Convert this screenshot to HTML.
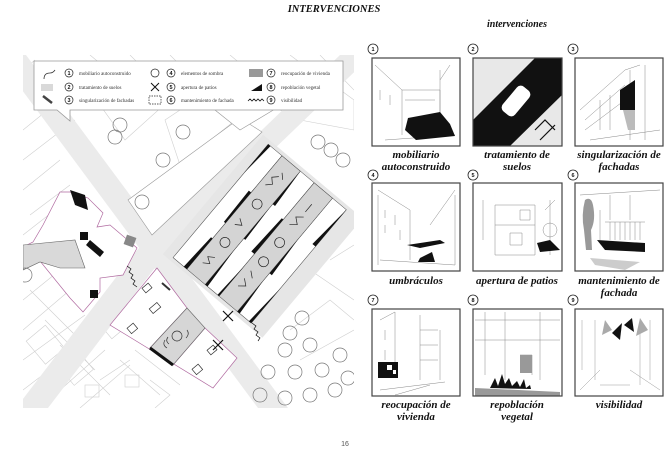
<!DOCTYPE html>
<html><head><meta charset="utf-8"><style>
html,body{margin:0;padding:0;background:#fff;}
svg{display:block;}
.lb{font-family:"Liberation Serif",serif;font-style:italic;font-weight:bold;font-size:11px;fill:#111;text-anchor:middle;}
.lg{font-family:"Liberation Serif",serif;font-size:5px;fill:#333;}
.n{font-family:"Liberation Sans",sans-serif;font-size:5.5px;font-weight:bold;fill:#111;text-anchor:middle;}
</style></head><body>
<svg width="670" height="464" viewBox="0 0 670 464" xmlns="http://www.w3.org/2000/svg">
<text x="334" y="12" class="lb" style="font-size:10.5px">INTERVENCIONES</text>
<text x="517" y="27" class="lb" style="font-size:10px">intervenciones</text>

<defs><clipPath id="mc"><rect x="23" y="55" width="331" height="353"/></clipPath></defs>
<g clip-path="url(#mc)">
<rect x="23" y="55" width="331" height="353" fill="#fff"/>
<g stroke="#cfcfcf" stroke-width="0.6" fill="none">
<path d="M23,130 L60,100 M23,160 L75,120 M23,190 L60,160 M30,215 L70,185 M23,235 L55,210 M35,60 L23,70 M90,55 L120,80 M130,55 L150,75 M170,55 L200,85 M230,55 L260,80 M290,55 L310,70 M320,55 L354,90"/>
<path d="M100,105 L150,65 L175,95 L125,140 Z M165,120 L240,70 L260,100 L180,165Z M270,105 L320,75 L354,100 L354,130 L300,120 Z"/>
<path d="M23,300 L60,270 M23,330 L70,290 M23,360 L85,315 M23,390 L95,335 M40,408 L105,350 M80,408 L130,365 M60,345 L110,395 M45,320 L95,370 M30,290 L80,340 M120,360 L160,395 M135,350 L180,385 M150,380 L170,395 L155,408 M100,380 L130,360"/>
<path d="M270,300 L310,270 L354,300 M290,330 L330,300 L354,320 M300,360 L354,330 M330,260 L354,245 M280,280 L320,250"/>
<rect x="33" y="330" width="25" height="30" transform="rotate(-40 45 345)"/>
<rect x="65" y="360" width="25" height="20" transform="rotate(-40 77 370)"/>
<rect x="105" y="320" width="20" height="14" transform="rotate(-40 115 327)"/>
<rect x="125" y="375" width="14" height="12"/>
<rect x="85" y="385" width="14" height="12"/>
</g>
<!-- roads -->
<polygon points="-4,55 26,55 288,408 258,408" fill="#ebebeb"/>
<polygon points="340,55 372,55 167,252 48,408 16,408 137,250" fill="#ebebeb"/>
<!-- grey margin around striped block -->
<g transform="translate(170,255) rotate(-50)"><rect x="-4" y="-6" width="156" height="130" fill="#e6e6e6"/></g>
<!-- top triangle block -->
<g stroke="#999" stroke-width="0.6" fill="#fff">
<polygon points="128,200 240,118 262,132 152,235"/>
<polygon points="215,110 290,70 310,88 240,130"/>
</g>
<!-- left building -->
<polygon points="60,192 70,192 88,198 103,213 97,227 110,225 137,248 123,275 100,278 100,292 83,312 70,298 27,245 33,242 43,225" fill="#fff" stroke="#b06aa0" stroke-width="0.7"/>
<polygon points="23,245 75,240 85,268 60,268 40,262 23,270" fill="#d9d9d9" stroke="#666" stroke-width="0.6"/>
<polygon points="70,190 85,195 88,210 75,205" fill="#111"/>
<rect x="80" y="232" width="8" height="8" fill="#111"/>
<polygon points="90,240 104,252 100,257 86,245" fill="#111"/>
<rect x="125" y="236" width="10" height="10" fill="#888" transform="rotate(20 130 241)"/>
<rect x="90" y="290" width="8" height="8" fill="#111"/>
<path d="M127,266 l4,3 -2,3 4,3 -2,3 4,3 -2,3 4,3" stroke="#111" stroke-width="0.7" fill="none"/>
<!-- lower middle block -->
<polygon points="157,268 187,308 150,348 173,365 205,328 237,358 213,388 110,325" fill="#fff" stroke="#b06aa0" stroke-width="0.7"/>
<polygon points="150,348 187,308 205,328 173,365" fill="#d6d6d6" stroke="#666" stroke-width="0.6"/>
<line x1="150" y1="348" x2="173" y2="365" stroke="#111" stroke-width="3"/>
<g fill="none" stroke="#333" stroke-width="0.7">
<circle cx="177" cy="336" r="5"/><path d="M165,340 q-3,5 2,8 M168,337 q-3,4 1,7 M187,330 q3,4 -1,8"/>
<rect x="143" y="285" width="8" height="6" transform="rotate(-40 147 288)"/>
<rect x="150" y="305" width="10" height="6" transform="rotate(-40 155 308)"/>
<rect x="128" y="325" width="8" height="7" transform="rotate(-40 132 328)"/>
<rect x="208" y="347" width="8" height="6" transform="rotate(-40 212 350)"/>
<rect x="193" y="366" width="8" height="7" transform="rotate(-40 197 369)"/>
</g>
<line x1="162" y1="283" x2="170" y2="290" stroke="#333" stroke-width="2"/>
<!-- striped block -->
<g transform="translate(170,255) rotate(-50)">
<rect x="0" y="4" width="148" height="18" fill="#fff" stroke="#444" stroke-width="0.5"/>
<rect x="0" y="22" width="148" height="24" fill="#d4d4d4" stroke="#444" stroke-width="0.5"/>
<rect x="0" y="46" width="148" height="18" fill="#fff" stroke="#444" stroke-width="0.5"/>
<rect x="0" y="64" width="148" height="24" fill="#d4d4d4" stroke="#444" stroke-width="0.5"/>
<rect x="0" y="88" width="148" height="18" fill="#fff" stroke="#444" stroke-width="0.5"/>
<g fill="#111">
<polygon points="0,18 40,20 40,22 0,22"/><polygon points="60,20 100,19 100,22 60,22"/><polygon points="110,4 148,4 148,7"/>
<polygon points="0,46 45,46 0,49"/><polygon points="55,60 100,62 100,64 55,64"/><polygon points="105,46 148,46 105,49"/>
<polygon points="0,62 40,64 0,64"/><polygon points="50,88 95,88 50,91"/><polygon points="100,102 148,106 100,106"/>
<polygon points="0,88 40,88 0,91"/><polygon points="0,103 45,106 0,106"/><polygon points="60,46 100,46 60,48"/>
</g>
<g fill="none" stroke="#222" stroke-width="0.7">
<circle cx="45" cy="34" r="5"/><circle cx="95" cy="34" r="5"/><circle cx="55" cy="76" r="5"/><circle cx="80" cy="76" r="5"/>
<path d="M15,30 l4,6 4,-6 4,6 M65,30 l4,6 4,-6 M115,28 l5,5 5,-5 5,5 M130,38 l5,-5 M20,72 l5,6 5,-6 M35,78 l5,-6 M100,72 l5,6 5,-6 5,6 M120,76 l10,0"/>
</g>
</g>
<path d="M252,323 l4,3 -2,3 4,3 -2,3 4,3 -2,3" stroke="#111" stroke-width="0.7" fill="none"/>
<g stroke="#111" stroke-width="1.2"><path d="M223,311 l10,10 M233,311 l-10,10 M213,340 l10,10 M223,340 l-10,10"/></g>
<g fill="none" stroke="#777" stroke-width="0.7">
<circle cx="120" cy="125" r="7"/><circle cx="115" cy="137" r="7"/><circle cx="183" cy="132" r="7"/><circle cx="163" cy="160" r="7"/><circle cx="142" cy="202" r="7"/>
<circle cx="318" cy="142" r="7"/><circle cx="331" cy="150" r="7"/><circle cx="343" cy="160" r="7"/><circle cx="25" cy="275" r="7"/>
<circle cx="290" cy="333" r="7"/><circle cx="302" cy="318" r="7"/><circle cx="285" cy="350" r="7"/><circle cx="310" cy="345" r="7"/>
<circle cx="268" cy="372" r="7"/><circle cx="295" cy="372" r="7"/><circle cx="322" cy="370" r="7"/><circle cx="340" cy="355" r="7"/>
<circle cx="260" cy="395" r="7"/><circle cx="285" cy="398" r="7"/><circle cx="310" cy="395" r="7"/><circle cx="335" cy="390" r="7"/><circle cx="348" cy="378" r="7"/>
</g>
</g>
<!-- legend -->
<path d="M34,61 H343 V110 H70 L70,121 L57,110 H34 Z" fill="#fff" stroke="#999" stroke-width="0.8"/>
<g>
<path d="M44,79 q0,-6 6,-6 q3,0 5,-3" fill="none" stroke="#333" stroke-width="0.8"/>
<rect x="41" y="84" width="12" height="7" fill="#d9d9d9"/>
<line x1="43" y1="96" x2="52" y2="103" stroke="#444" stroke-width="2.5"/>
<g fill="none" stroke="#222" stroke-width="0.7"><circle cx="69" cy="73" r="4"/><circle cx="69" cy="87" r="4"/><circle cx="69" cy="100" r="4"/>
<circle cx="155" cy="73" r="4"/><circle cx="171" cy="73" r="4"/><circle cx="171" cy="87" r="4"/><circle cx="171" cy="100" r="4"/>
<circle cx="271" cy="73" r="4"/><circle cx="271" cy="87" r="4"/><circle cx="271" cy="100" r="4"/>
<rect x="149" y="96" width="12" height="8" stroke-dasharray="1.5,1"/></g>
<path d="M151,83 l8,8 M159,83 l-8,8" stroke="#111" stroke-width="1"/>
<rect x="249" y="69" width="14" height="8" fill="#999"/>
<polygon points="251,91 262,84 262,91" fill="#111"/>
<path d="M248,101 l2,-2 2,2 2,-2 2,2 2,-2 2,2 2,-2 2,2" fill="none" stroke="#111" stroke-width="0.8"/>
<text class="n" x="69" y="75">1</text><text class="n" x="69" y="89">2</text><text class="n" x="69" y="102">3</text>
<text class="n" x="171" y="75">4</text><text class="n" x="171" y="89">5</text><text class="n" x="171" y="102">6</text>
<text class="n" x="271" y="75">7</text><text class="n" x="271" y="89">8</text><text class="n" x="271" y="102">9</text>
<text class="lg" x="79" y="75">mobiliario autoconstruido</text><text class="lg" x="79" y="89">tratamiento de suelos</text><text class="lg" x="79" y="102">singularización de fachadas</text>
<text class="lg" x="181" y="75">elementos de sombra</text><text class="lg" x="181" y="89">apertura de patios</text><text class="lg" x="181" y="102">mantenimiento de fachada</text>
<text class="lg" x="281" y="75">reocupación de vivienda</text><text class="lg" x="281" y="89">repoblación vegetal</text><text class="lg" x="281" y="102">visibilidad</text>
</g>

<!-- PANELS -->
<g fill="none" stroke="#222" stroke-width="0.8">
<circle cx="373" cy="49" r="5"/><circle cx="473" cy="49" r="5"/><circle cx="573" cy="49" r="5"/>
<circle cx="373" cy="175" r="5"/><circle cx="473" cy="175" r="5"/><circle cx="573" cy="175" r="5"/>
<circle cx="373" cy="300" r="5"/><circle cx="473" cy="300" r="5"/><circle cx="573" cy="300" r="5"/>
</g>
<text class="n" x="373" y="51">1</text><text class="n" x="473" y="51">2</text><text class="n" x="573" y="51">3</text>
<text class="n" x="373" y="177">4</text><text class="n" x="473" y="177">5</text><text class="n" x="573" y="177">6</text>
<text class="n" x="373" y="302">7</text><text class="n" x="473" y="302">8</text><text class="n" x="573" y="302">9</text>

<g stroke="#888" stroke-width="0.5" fill="none">
<path d="M375,65 L402,90 V135 M402,90 H440 V120 M440,70 V135 M380,90 v10 M390,95 v10 M405,100 h30 M385,140 L455,135 M450,65 L440,80"/>
</g>
<polygon points="408,118 440,112 450,124 455,136 416,140 405,130" fill="#111"/>
<rect x="372" y="58" width="88" height="88" fill="none" stroke="#444" stroke-width="1.2"/>
<rect x="473" y="58" width="89" height="88" fill="#e8e8e8"/>
<polygon points="535,58 562,58 562,95 510,146 473,146 473,120" fill="#111"/>
<rect x="508" y="85" width="16" height="32" rx="5" fill="#fff" transform="rotate(40 516 101)"/>
<path d="M535,130 l10,-10 10,10 M540,140 l15,-15" stroke="#111" fill="none" stroke-width="1.2"/>
<rect x="473" y="58" width="89" height="88" fill="none" stroke="#444" stroke-width="1.2"/>
<g stroke="#888" stroke-width="0.5" fill="none"><path d="M580,110 L625,70 L640,65 M585,120 L625,85 M585,130 L625,100 M590,140 L660,130 M630,70 V140 M645,65 V140 M600,100 v30 M610,95 v35"/></g>
<polygon points="620,90 635,80 635,95 620,95" fill="#111"/><rect x="620" y="95" width="15" height="15" fill="#111"/>
<polygon points="623,110 635,110 635,130 628,130" fill="#bbb"/>
<rect x="575" y="58" width="88" height="88" fill="none" stroke="#444" stroke-width="1.2"/>
<g stroke="#888" stroke-width="0.5" fill="none"><path d="M378,190 L410,210 V260 M378,195 V265 M385,210 v8 M385,225 v8 M395,215 v10 M400,230 v10 M430,225 L455,190 M455,195 V265 M380,260 L455,265"/></g>
<polygon points="407,245 440,240 445,243 420,248" fill="#111"/>
<polygon points="420,258 432,252 435,262 418,262" fill="#111"/>
<rect x="372" y="183" width="88" height="88" fill="none" stroke="#444" stroke-width="1.2"/>
<g stroke="#888" stroke-width="0.5" fill="none"><path d="M495,205 H535 V255 H495 Z M495,225 H535 M483,200 V240 M545,210 L555,200 M550,200 V255 M520,210 h10 v10 h-10z M510,233 h12 v12 h-12z"/><circle cx="550" cy="230" r="7"/></g>
<polygon points="537,243 550,240 560,250 540,252" fill="#111"/>
<rect x="473" y="183" width="89" height="88" fill="none" stroke="#444" stroke-width="1.2"/>
<path d="M585,200 q6,-4 8,5 q3,15 -2,25 l1,20 h-6 l-2,-20 q-3,-15 1,-30z" fill="#999"/>
<g stroke="#888" stroke-width="0.5" fill="none"><path d="M580,195 L660,190 M600,210 V240 M605,222 H645 M610,222 v18 M615,222 v18 M620,222 v18 M625,222 v18 M630,222 v18 M635,222 v18 M640,222 v18 M610,195 v25 M630,195 v25"/></g>
<polygon points="597,240 645,243 645,252 605,250" fill="#111"/>
<polygon points="590,258 640,262 625,270 595,265" fill="#ccc"/>
<rect x="575" y="183" width="88" height="88" fill="none" stroke="#444" stroke-width="1.2"/>
<g stroke="#888" stroke-width="0.5" fill="none"><path d="M380,320 L395,312 V375 M385,330 v10 M385,350 v10 M420,315 V380 M420,330 h18 M420,345 h18 M420,360 h18 M440,330 V380 M395,395 L430,385 M380,390 L445,382"/></g>
<rect x="378" y="362" width="20" height="16" fill="#111"/>
<rect x="387" y="365" width="5" height="5" fill="#fff"/><rect x="393" y="370" width="3" height="4" fill="#fff"/>
<rect x="372" y="309" width="88" height="87" fill="none" stroke="#444" stroke-width="1.2"/>
<g stroke="#888" stroke-width="0.5" fill="none"><path d="M475,320 H560 M475,340 H560 M485,312 V375 M505,312 V380 M540,312 V380 M520,355 h12 v20"/></g>
<rect x="520" y="355" width="12" height="18" fill="#999"/>
<polygon points="475,388 560,392 560,396 475,396" fill="#999"/>
<path d="M490,388 l5,-10 3,8 4,-12 3,10 4,-6 3,8 5,-5 3,6 4,-8 2,9 4,-3 1,4 z" fill="#111"/>
<rect x="473" y="309" width="89" height="87" fill="none" stroke="#444" stroke-width="1.2"/>
<g stroke="#999" stroke-width="0.5" fill="none"><path d="M582,320 V370 M595,320 V380 M650,320 V380 M640,325 V385 M600,370 L580,390 M630,370 L660,390 M600,385 h30"/></g>
<polygon points="605,320 612,330 602,335" fill="#aaa"/><polygon points="640,318 648,330 636,336" fill="#aaa"/>
<polygon points="612,333 622,323 620,340" fill="#111"/><polygon points="624,325 632,318 634,332" fill="#111"/>
<rect x="575" y="309" width="88" height="87" fill="none" stroke="#444" stroke-width="1.2"/>

<text class="lb" x="416" y="158">mobiliario</text><text class="lb" x="416" y="170">autoconstruido</text>
<text class="lb" x="517" y="158">tratamiento de</text><text class="lb" x="517" y="170">suelos</text>
<text class="lb" x="619" y="158">singularización de</text><text class="lb" x="619" y="170">fachadas</text>
<text class="lb" x="416" y="284">umbráculos</text>
<text class="lb" x="517" y="284">apertura de patios</text>
<text class="lb" x="619" y="284">mantenimiento de</text><text class="lb" x="619" y="296">fachada</text>
<text class="lb" x="416" y="408">reocupación de</text><text class="lb" x="416" y="420">vivienda</text>
<text class="lb" x="517" y="408">repoblación</text><text class="lb" x="517" y="420">vegetal</text>
<text class="lb" x="619" y="408">visibilidad</text>

<text x="345" y="446" style="font-family:'Liberation Sans',sans-serif;font-size:7px;fill:#555" text-anchor="middle">16</text>
</svg>
</body></html>
